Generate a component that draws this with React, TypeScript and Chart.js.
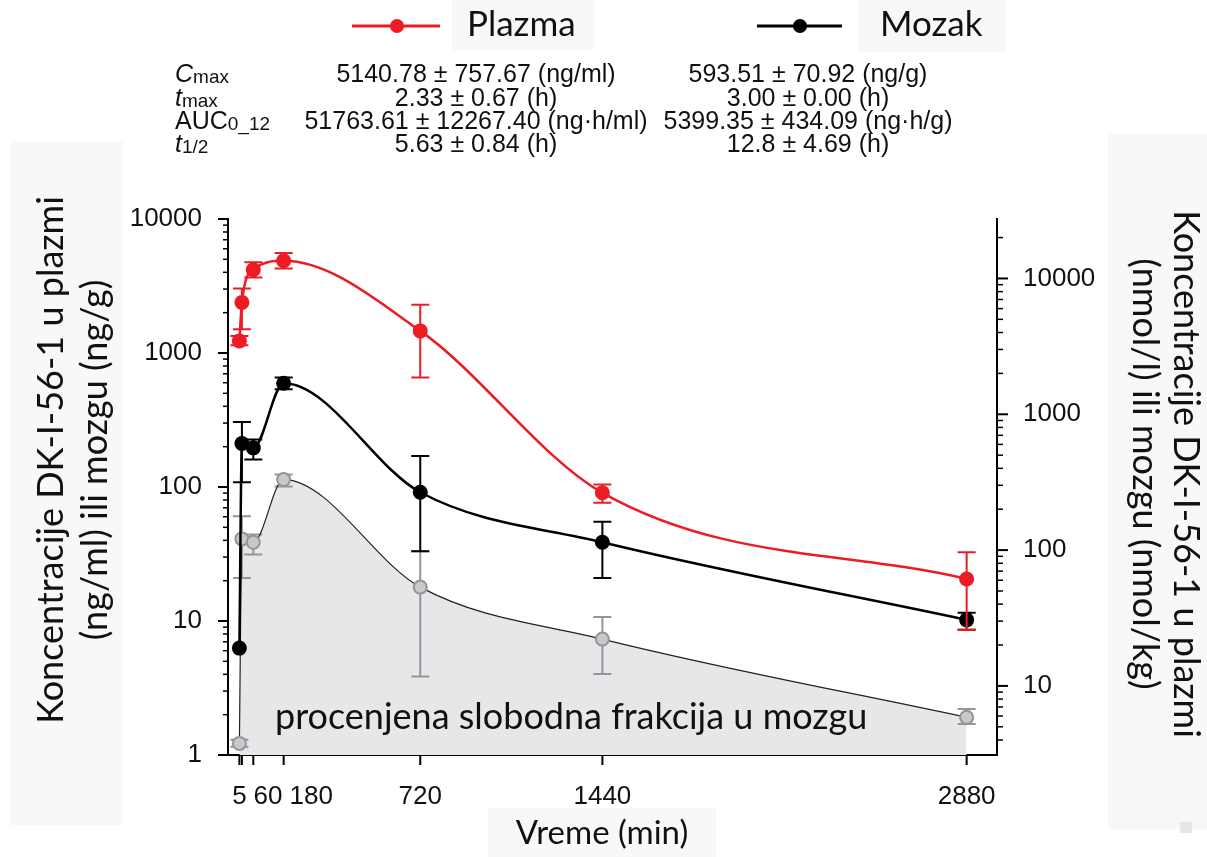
import React, { useEffect, useRef } from 'react';
import { Chart, registerables } from 'chart.js';

Chart.register(...registerables);

// ---------- data ----------
const times = [5, 15, 60, 180, 720, 1440, 2880];

const plazma = [1231, 2385, 4179, 4876, 1462, 90.5, 20.6];
const plazmaHi = [1342, 3034, 4747, 5571, 2287, 104.5, 32.6];
const plazmaLo = [1143, 1506, 3664, 4277, 655, 76.2, 8.6];

const mozak = [6.28, 211, 196, 594, 91.4, 38.7, 10.2];
const mozakHi = [6.28, 305, 226, 655, 170, 55, 11.5];
const mozakLo = [6.28, 108.6, 160.6, 536, 33.1, 20.9, 8.6];

const slobodna = [1.22, 41, 38.7, 113.7, 17.9, 7.33, 1.91];
const slobodnaHi = [1.3, 60.5, 44.2, 124, 33.1, 10.7, 2.2];
const slobodnaLo = [1.15, 20.9, 31.3, 101, 3.85, 4.03, 1.7];

const xTickValues = [5, 15, 60, 180, 720, 1440, 2880];
const xTickLabels = ['5', '', '60', '180', '720', '1440', '2880'];
const leftTickLabels = [1, 10, 100, 1000, 10000];
const rightTickLabels = [10, 100, 1000, 10000];

const X_MIN = -40;
const X_MAX = 3000;
const Y_MIN = 1;
const Y_MAX = 10000;
const Y2_MIN = 3.1;
const Y2_MAX = 27400;

const statNames = [
  [{ t: 'C', italic: true }, { t: 'max', sub: true }],
  [{ t: 't', italic: true }, { t: 'max', sub: true }],
  [{ t: 'AUC' }, { t: '0_12', sub: true }],
  [{ t: 't', italic: true }, { t: '1/2', sub: true }],
];
const plazmaStats = [
  '5140.78 ± 757.67 (ng/ml)',
  '2.33 ± 0.67 (h)',
  '51763.61 ± 12267.40 (ng·h/ml)',
  '5.63 ± 0.84 (h)',
];
const mozakStats = [
  '593.51 ± 70.92 (ng/g)',
  '3.00 ± 0.00 (h)',
  '5399.35 ± 434.09 (ng·h/g)',
  '12.8 ± 4.69 (h)',
];

const legendNames = ['Plazma', 'Mozak'];
const leftTitle = ['Koncentracije DK-I-56-1 u plazmi', '(ng/ml) ili mozgu (ng/g)'];
const rightTitle = ['Koncentracije DK-I-56-1 u plazmi', '(nmol/l) ili mozgu (nmol/kg)'];
const xTitle = 'Vreme (min)';
const areaLabel = 'procenjena slobodna frakcija u mozgu';

// ---------- styles ----------
const RED = '#ed1c24';
const BLACK = '#000000';
const GRAY_FILL = '#e6e7e8';
const GRAY_POINT = '#c8c9cb';
const GRAY_EDGE = '#939598';
const BOX = '#f8f8f8';
const SANS = "'Liberation Sans', Arial, sans-serif";
const NARROW = "'Liberation Sans Narrow', 'Arial Narrow', 'Liberation Sans', sans-serif";
const HUMAN = "Lato, 'Open Sans', sans-serif";

const W = 1207;
const H = 857;

const isOneOf = (v: number, arr: number[]) => arr.some((a) => Math.abs(v - a) < a * 1e-6);

function logTickValues(min: number, max: number) {
  const out: { v: number; major: boolean }[] = [];
  for (let e = Math.floor(Math.log10(min)); e <= Math.ceil(Math.log10(max)); e++) {
    for (let m = 1; m < 10; m++) {
      const v = m * Math.pow(10, e);
      if (v >= min * 0.9999 && v <= max * 1.0001) out.push({ v, major: m === 1 });
    }
  }
  return out;
}

const errorBarPlugin = {
  id: 'errorBars',
  beforeDatasetDraw(chart: any, args: any) {
    const ds: any = chart.data.datasets[args.index];
    if (!ds.errHi) return;
    const { ctx } = chart;
    const xs = chart.scales.x;
    const ys = chart.scales.y;
    ctx.save();
    ctx.strokeStyle = ds.errColor;
    ctx.lineWidth = 2;
    for (let i = 0; i < times.length; i++) {
      if (ds.errHi[i] === ds.errLo[i]) continue;
      const x = xs.getPixelForValue(times[i]);
      const yh = ys.getPixelForValue(ds.errHi[i]);
      const yl = ys.getPixelForValue(ds.errLo[i]);
      ctx.beginPath();
      ctx.moveTo(x, yh);
      ctx.lineTo(x, yl);
      ctx.moveTo(x - 9, yh);
      ctx.lineTo(x + 9, yh);
      ctx.moveTo(x - 9, yl);
      ctx.lineTo(x + 9, yl);
      ctx.stroke();
    }
    ctx.restore();
  },
};

function drawRuns(ctx: CanvasRenderingContext2D, runs: any[], x: number, y: number, size: number) {
  let cx = x;
  for (const r of runs) {
    const fs = r.sub ? Math.round(size * 0.76) : size;
    ctx.font = `${r.italic ? 'italic ' : ''}${fs}px ${SANS}`;
    ctx.fillText(r.t, cx, y + (r.sub ? 1 : 0));
    cx += ctx.measureText(r.t).width;
  }
}

function rotatedLines(ctx: CanvasRenderingContext2D, lines: string[], xs: number[], cy: number, angle: number) {
  lines.forEach((line, i) => {
    ctx.save();
    ctx.translate(xs[i], cy);
    ctx.rotate(angle);
    ctx.textAlign = 'center';
    ctx.textBaseline = 'middle';
    ctx.fillText(line, 0, 0);
    ctx.restore();
  });
}

const decorPlugin = {
  id: 'decor',
  beforeDraw(chart: any) {
    const { ctx } = chart;
    ctx.save();
    ctx.fillStyle = '#ffffff';
    ctx.fillRect(0, 0, W, H);
    ctx.fillStyle = BOX;
    ctx.fillRect(452, 0, 142, 50);
    ctx.fillRect(858, 0, 148, 52);
    ctx.fillRect(10, 141, 113, 684);
    ctx.fillRect(1108, 133, 99, 697);
    ctx.fillRect(488, 808, 228, 49);
    ctx.fillStyle = '#e6e6e6';
    ctx.fillRect(1180, 822, 12, 11);
    ctx.restore();
  },
  afterDatasetsDraw(chart: any) {
    const { ctx } = chart;
    ctx.save();
    ctx.fillStyle = '#111111';
    ctx.font = `36px ${HUMAN}`;
    ctx.textAlign = 'left';
    ctx.textBaseline = 'alphabetic';
    ctx.fillText(areaLabel, 275, 729);
    ctx.restore();
  },
  afterDraw(chart: any) {
    const { ctx, chartArea } = chart;
    const xs = chart.scales.x;
    const ys = chart.scales.y;
    const y2 = chart.scales.y2;
    ctx.save();

    // tick marks
    ctx.strokeStyle = '#000';
    for (const t of logTickValues(Y_MIN, Y_MAX)) {
      const y = ys.getPixelForValue(t.v);
      ctx.lineWidth = t.major ? 2 : 1.5;
      ctx.beginPath();
      ctx.moveTo(chartArea.left - (t.major ? 10 : 5), y);
      ctx.lineTo(chartArea.left, y);
      ctx.stroke();
    }
    for (const t of logTickValues(Y2_MIN, Y2_MAX)) {
      const y = y2.getPixelForValue(t.v);
      ctx.lineWidth = t.major ? 2 : 1.5;
      ctx.beginPath();
      ctx.moveTo(chartArea.right, y);
      ctx.lineTo(chartArea.right + (t.major ? 11 : 6), y);
      ctx.stroke();
    }
    ctx.lineWidth = 2;
    for (const v of xTickValues) {
      const x = xs.getPixelForValue(v);
      ctx.beginPath();
      ctx.moveTo(x, chartArea.bottom);
      ctx.lineTo(x, chartArea.bottom + 10);
      ctx.stroke();
    }

    // x tick labels, nudged apart where they would overlap
    ctx.fillStyle = '#111111';
    ctx.font = `26px ${NARROW}`;
    ctx.textAlign = 'center';
    ctx.textBaseline = 'middle';
    let prevRight = -Infinity;
    xTickValues.forEach((v, i) => {
      const text = xTickLabels[i];
      if (!text) return;
      const w = ctx.measureText(text).width;
      let cx = xs.getPixelForValue(v);
      if (cx - w / 2 < prevRight + 7) cx = prevRight + 7 + w / 2;
      ctx.fillText(text, cx, 797);
      prevRight = cx + w / 2;
    });

    // axis titles
    ctx.font = `36px ${HUMAN}`;
    ctx.fillStyle = '#111111';
    rotatedLines(ctx, leftTitle, [51, 95], 460, -Math.PI / 2);
    rotatedLines(ctx, rightTitle, [1186, 1145], 474, Math.PI / 2);
    ctx.font = `33px ${HUMAN}`;
    ctx.textAlign = 'center';
    ctx.textBaseline = 'middle';
    ctx.fillText(xTitle, 602, 833);

    // legend
    const legend = [
      { color: RED, x1: 352, x2: 440, dot: 397, tx: 467 },
      { color: BLACK, x1: 757, x2: 842, dot: 800, tx: 880 },
    ];
    legend.forEach((l, i) => {
      ctx.strokeStyle = l.color;
      ctx.fillStyle = l.color;
      ctx.lineWidth = 3;
      ctx.beginPath();
      ctx.moveTo(l.x1, 26);
      ctx.lineTo(l.x2, 26);
      ctx.stroke();
      ctx.beginPath();
      ctx.arc(l.dot, 26, 7, 0, Math.PI * 2);
      ctx.fill();
      ctx.fillStyle = '#111111';
      ctx.font = `35px ${HUMAN}`;
      ctx.textAlign = 'left';
      ctx.textBaseline = 'middle';
      ctx.fillText(legendNames[i], l.tx, 25);
    });

    // stats table
    ctx.fillStyle = '#111111';
    ctx.textBaseline = 'alphabetic';
    const rowY = [82, 105.5, 129, 152];
    statNames.forEach((runs, i) => {
      ctx.textAlign = 'left';
      drawRuns(ctx, runs, 175, rowY[i], 25);
      ctx.font = `25px ${SANS}`;
      ctx.textAlign = 'center';
      ctx.fillText(plazmaStats[i], 476, rowY[i]);
      ctx.fillText(mozakStats[i], 808, rowY[i]);
    });

    ctx.restore();
  },
};

export default function App() {
  const ref = useRef<HTMLCanvasElement | null>(null);

  useEffect(() => {
    if (!ref.current) return;
    const toPts = (vals: number[]) => times.map((t, i) => ({ x: t, y: vals[i] }));
    const tickFont = { family: SANS, size: 26 };
    const chart = new Chart(ref.current, {
      type: 'line',
      data: {
        datasets: [
          {
            label: 'Plazma',
            data: toPts(plazma),
            borderColor: RED,
            backgroundColor: RED,
            borderWidth: 2.5,
            pointRadius: 7.5,
            pointBorderWidth: 0,
            pointBackgroundColor: RED,
            cubicInterpolationMode: 'monotone',
            fill: false,
            clip: false,
            order: 0,
            errHi: plazmaHi,
            errLo: plazmaLo,
            errColor: RED,
          } as any,
          {
            label: 'Mozak',
            data: toPts(mozak),
            borderColor: BLACK,
            backgroundColor: BLACK,
            borderWidth: 2.5,
            pointRadius: 7.5,
            pointBorderWidth: 0,
            pointBackgroundColor: BLACK,
            cubicInterpolationMode: 'monotone',
            fill: false,
            clip: false,
            order: 1,
            errHi: mozakHi,
            errLo: mozakLo,
            errColor: BLACK,
          } as any,
          {
            label: 'Slobodna frakcija',
            data: toPts(slobodna),
            borderColor: '#222222',
            backgroundColor: GRAY_FILL,
            borderWidth: 1.2,
            pointRadius: 6.5,
            pointBorderWidth: 2,
            pointBorderColor: GRAY_EDGE,
            pointBackgroundColor: GRAY_POINT,
            cubicInterpolationMode: 'monotone',
            fill: 'start',
            clip: false,
            order: 2,
            errHi: slobodnaHi,
            errLo: slobodnaLo,
            errColor: GRAY_EDGE,
          } as any,
        ],
      },
      options: {
        animation: false,
        responsive: false,
        devicePixelRatio: 1,
        events: [],
        layout: { padding: { top: 219, left: 0, right: 0, bottom: 0 } },
        plugins: { legend: { display: false }, tooltip: { enabled: false } },
        scales: {
          x: {
            type: 'linear',
            min: X_MIN,
            max: X_MAX,
            ticks: { display: false },
            grid: { display: false, drawTicks: false },
            border: { display: true, color: '#000', width: 2 },
            afterFit: (s: any) => {
              s.height = 102;
            },
          },
          y: {
            type: 'logarithmic',
            position: 'left',
            min: Y_MIN,
            max: Y_MAX,
            ticks: {
              autoSkip: false,
              padding: 26,
              color: '#111111',
              font: tickFont,
              callback: (v: any) => (isOneOf(Number(v), leftTickLabels) ? String(Math.round(Number(v))) : ''),
            },
            grid: { display: false, drawTicks: false },
            border: { display: true, color: '#000', width: 2 },
            afterFit: (s: any) => {
              s.width = 228;
            },
          },
          y2: {
            type: 'logarithmic',
            position: 'right',
            min: Y2_MIN,
            max: Y2_MAX,
            ticks: {
              autoSkip: false,
              padding: 26,
              color: '#111111',
              font: tickFont,
              callback: (v: any) => (isOneOf(Number(v), rightTickLabels) ? String(Math.round(Number(v))) : ''),
            },
            grid: { display: false, drawTicks: false },
            border: { display: true, color: '#000', width: 2 },
            afterFit: (s: any) => {
              s.width = 210;
            },
          },
        },
      } as any,
      plugins: [decorPlugin, errorBarPlugin],
    });
    return () => chart.destroy();
  }, []);

  return (
    <div style={{ position: 'absolute', left: 0, top: 0, width: W, height: H, background: '#fff' }}>
      <canvas ref={ref} width={W} height={H} style={{ display: 'block', width: W, height: H }} />
    </div>
  );
}
